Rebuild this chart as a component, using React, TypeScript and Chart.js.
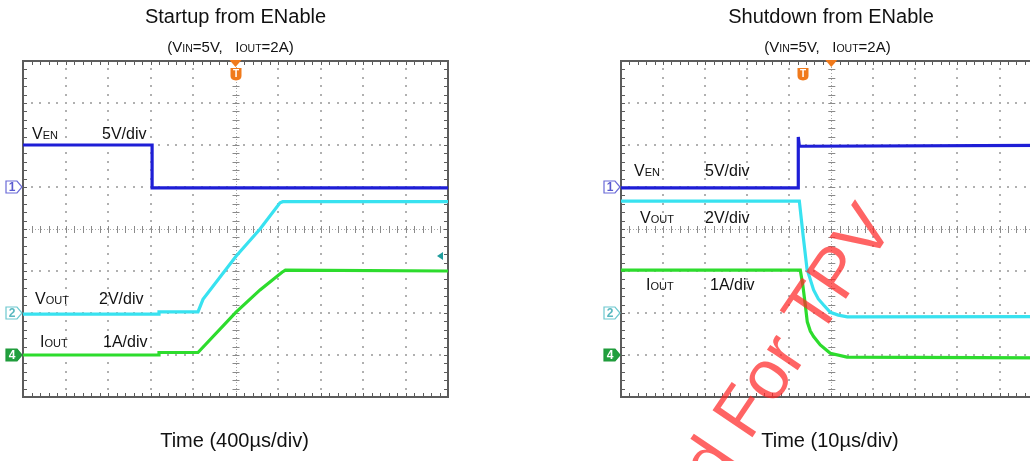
import React, { useEffect, useRef } from 'react';
import { Chart, registerables } from 'chart.js';
Chart.register(...registerables);

// ---------- Startup from ENable (400 µs/div) ----------
const startupVenTimeUs = [-2000, -785, -785, 2000];
const startupVenVolts = [5.0, 5.0, -0.1, -0.1];
const startupVoutTimeUs = [-2000, -720, -720, -353, -306, 5, 231, 419, 445, 2000];
const startupVoutVolts = [-0.05, -0.05, 0.05, 0.05, 0.65, 2.7, 4.0, 5.25, 5.3, 5.3];
const startupIoutTimeUs = [-2000, -720, -720, -353, 5, 231, 438, 470, 2000];
const startupIoutAmps = [0, 0, 0.06, 0.06, 1.02, 1.55, 1.97, 2.02, 2.0];

// ---------- Shutdown from ENable (10 µs/div) ----------
const shutdownVenTimeUs = [-50, -7.85, -7.85, -7.6, 50];
const shutdownVenVolts = [-0.1, -0.1, 5.95, 4.85, 4.95];
const shutdownVoutTimeUs = [-50, -7.6, -6.66, -5.78, -4.21, -3.09, -1.83, -0.24, 1.66, 3.8, 50];
const shutdownVoutVolts = [5.33, 5.33, 3.62, 2.1, 1.1, 0.67, 0.38, 0.03, -0.1, -0.18, -0.17];
const shutdownIoutTimeUs = [-50, -7.37, -6.78, -6.18, -5.71, -4.99, -4.21, -2.62, -0.24, 3.73, 50];
const shutdownIoutAmps = [2.02, 2.02, 1.67, 1.19, 0.79, 0.57, 0.44, 0.24, 0.04, -0.05, -0.07];

// ---------- text ----------
const startupTitle = 'Startup from ENable';
const shutdownTitle = 'Shutdown from ENable';
const startupXLabel = 'Time (400µs/div)';
const shutdownXLabel = 'Time (10µs/div)';
const watermarkText = 'Prepared For TPV';

const FONT = '"Liberation Sans", Arial, Helvetica, sans-serif';
const BLUE = '#1e1ed6';
const CYAN = '#38e2f0';
const GREEN = '#2ddc2d';
const ORANGE = '#f07a1c';

type Part = { t: string; s: number };
type Label = { parts: Part[]; x: number; y: number };
interface ScopeCfg {
  canvasLeft: number;
  title: string;
  titleX: number;
  subtitleX: number;
  xLabel: string;
  xLabelX: number;
  labels: Label[];
  triggerIconX: number;
  levelMarker?: { x: number; y: number };
  watermark?: boolean;
}

function drawParts(ctx: CanvasRenderingContext2D, parts: Part[], x: number, y: number, center: boolean) {
  let total = 0;
  const widths = parts.map((p) => {
    ctx.font = `${p.s}px ${FONT}`;
    const w = ctx.measureText(p.t).width;
    total += w;
    return w;
  });
  let cx = center ? x - total / 2 : x;
  ctx.textAlign = 'left';
  ctx.textBaseline = 'alphabetic';
  parts.forEach((p, i) => {
    ctx.font = `${p.s}px ${FONT}`;
    ctx.fillText(p.t, cx, y);
    cx += widths[i];
  });
}

function drawGrid(ctx: CanvasRenderingContext2D, a: { left: number; top: number; right: number; bottom: number }) {
  const W = a.right - a.left;
  const H = a.bottom - a.top;
  const dx = W / 10;
  const dy = H / 8;
  const cx = a.left + 5 * dx;
  const cy = a.top + 4 * dy;
  ctx.fillStyle = '#b0b0b0';
  for (let i = 1; i < 10; i++) {
    if (i === 5) continue;
    const x = Math.round(a.left + i * dx);
    for (let k = 1; k < 40; k++) {
      const y = Math.round(a.top + (k * dy) / 5);
      ctx.fillRect(x - 1, y - 1, 2, 2);
    }
  }
  for (let j = 1; j < 8; j++) {
    if (j === 4) continue;
    const y = Math.round(a.top + j * dy);
    for (let k = 1; k < 50; k++) {
      const x = Math.round(a.left + (k * dx) / 5);
      ctx.fillRect(x - 1, y - 1, 2, 2);
    }
  }
  // center cross
  ctx.strokeStyle = '#a8a8a8';
  ctx.lineWidth = 1;
  ctx.setLineDash([1, 2]);
  ctx.beginPath();
  ctx.moveTo(Math.round(cx) + 0.5, a.top);
  ctx.lineTo(Math.round(cx) + 0.5, a.bottom);
  ctx.moveTo(a.left, Math.round(cy) + 0.5);
  ctx.lineTo(a.right, Math.round(cy) + 0.5);
  ctx.stroke();
  ctx.setLineDash([]);
  ctx.strokeStyle = '#8a8a8a';
  ctx.beginPath();
  for (let k = 1; k < 40; k++) {
    const y = Math.round(a.top + (k * dy) / 5) + 0.5;
    ctx.moveTo(cx - 3, y);
    ctx.lineTo(cx + 4, y);
  }
  for (let k = 1; k < 50; k++) {
    const x = Math.round(a.left + (k * dx) / 5) + 0.5;
    ctx.moveTo(x, cy - 3);
    ctx.lineTo(x, cy + 4);
  }
  ctx.stroke();
  // border with inward ticks
  ctx.strokeStyle = '#5c5c5c';
  ctx.lineWidth = 2;
  ctx.strokeRect(a.left, a.top, W, H);
  ctx.lineWidth = 1;
  ctx.beginPath();
  for (let k = 1; k < 50; k++) {
    const x = Math.round(a.left + (k * dx) / 5) + 0.5;
    ctx.moveTo(x, a.top);
    ctx.lineTo(x, a.top + 4);
    ctx.moveTo(x, a.bottom);
    ctx.lineTo(x, a.bottom - 4);
  }
  for (let k = 1; k < 40; k++) {
    const y = Math.round(a.top + (k * dy) / 5) + 0.5;
    ctx.moveTo(a.left, y);
    ctx.lineTo(a.left + 4, y);
    ctx.moveTo(a.right, y);
    ctx.lineTo(a.right - 4, y);
  }
  ctx.stroke();
}

function drawChannelMarker(
  ctx: CanvasRenderingContext2D,
  tipX: number,
  y: number,
  label: string,
  stroke: string,
  fill: string,
  textColor: string
) {
  const x0 = tipX - 16;
  ctx.beginPath();
  ctx.moveTo(x0, y - 6);
  ctx.lineTo(tipX - 5, y - 6);
  ctx.lineTo(tipX, y);
  ctx.lineTo(tipX - 5, y + 6);
  ctx.lineTo(x0, y + 6);
  ctx.closePath();
  ctx.fillStyle = fill;
  ctx.fill();
  ctx.strokeStyle = stroke;
  ctx.lineWidth = 1.2;
  ctx.stroke();
  ctx.fillStyle = textColor;
  ctx.font = `bold 12px ${FONT}`;
  ctx.textAlign = 'center';
  ctx.textBaseline = 'middle';
  ctx.fillText(label, x0 + 6, y + 0.5);
}

function scopePlugin(cfg: ScopeCfg) {
  return {
    id: 'scope',
    beforeDatasetsDraw(chart: any) {
      const ctx = chart.ctx as CanvasRenderingContext2D;
      ctx.save();
      drawGrid(ctx, chart.chartArea);
      ctx.restore();
    },
    afterDraw(chart: any) {
      const ctx = chart.ctx as CanvasRenderingContext2D;
      const a = chart.chartArea;
      const cx = a.left + (a.right - a.left) / 2;
      const ys = chart.scales;
      ctx.save();
      // trigger position arrow at top
      ctx.fillStyle = ORANGE;
      ctx.beginPath();
      ctx.moveTo(cx - 6, a.top - 1);
      ctx.lineTo(cx + 6, a.top - 1);
      ctx.lineTo(cx, a.top + 6);
      ctx.closePath();
      ctx.fill();
      // channel ground markers
      drawChannelMarker(ctx, a.left - 1, ys.yEN.getPixelForValue(0), '1', '#6a6ad8', '#ffffff', '#5a5ad0');
      drawChannelMarker(ctx, a.left - 1, ys.yOUT.getPixelForValue(0), '2', '#6cc8cf', '#ffffff', '#5ab8c0');
      drawChannelMarker(ctx, a.left - 1, ys.yI.getPixelForValue(0), '4', '#1f9a3a', '#22a03e', '#ffffff');

      ctx.translate(-cfg.canvasLeft, 0);
      // trigger icon
      const tx = cfg.triggerIconX;
      ctx.fillStyle = ORANGE;
      ctx.beginPath();
      ctx.moveTo(tx - 5.5, 68);
      ctx.lineTo(tx + 5.5, 68);
      ctx.lineTo(tx + 5.5, 76);
      ctx.quadraticCurveTo(tx + 5.5, 80, tx, 80.5);
      ctx.quadraticCurveTo(tx - 5.5, 80, tx - 5.5, 76);
      ctx.closePath();
      ctx.fill();
      ctx.fillStyle = '#ffffff';
      ctx.font = `bold 10px ${FONT}`;
      ctx.textAlign = 'center';
      ctx.textBaseline = 'middle';
      ctx.fillText('T', tx, 74.5);
      if (cfg.levelMarker) {
        const m = cfg.levelMarker;
        ctx.fillStyle = '#1e9c9c';
        ctx.beginPath();
        ctx.moveTo(m.x, m.y);
        ctx.lineTo(m.x + 6, m.y - 4);
        ctx.lineTo(m.x + 6, m.y + 4);
        ctx.closePath();
        ctx.fill();
      }
      // titles and labels
      ctx.fillStyle = '#111111';
      ctx.font = `20px ${FONT}`;
      ctx.textAlign = 'center';
      ctx.textBaseline = 'alphabetic';
      ctx.fillText(cfg.title, cfg.titleX, 23);
      drawParts(
        ctx,
        [
          { t: '(V', s: 15 },
          { t: 'IN', s: 10.5 },
          { t: '=5V,   I', s: 15 },
          { t: 'OUT', s: 10.5 },
          { t: '=2A)', s: 15 },
        ],
        cfg.subtitleX,
        52,
        true
      );
      ctx.font = `20px ${FONT}`;
      ctx.textAlign = 'center';
      ctx.fillText(cfg.xLabel, cfg.xLabelX, 447);
      cfg.labels.forEach((l) => drawParts(ctx, l.parts, l.x, l.y, false));
      if (cfg.watermark) {
        ctx.save();
        ctx.translate(895, 226);
        ctx.rotate((-56 * Math.PI) / 180);
        ctx.font = `70px ${FONT}`;
        ctx.fillStyle = 'rgba(255, 40, 40, 0.72)';
        ctx.textAlign = 'right';
        ctx.textBaseline = 'alphabetic';
        ctx.fillText(watermarkText, 0, 0);
        ctx.restore();
      }
      ctx.restore();
    },
  };
}

function series(times: number[], values: number[]) {
  return times.map((t, i) => ({ x: t, y: values[i] }));
}

function makeScope(
  canvas: HTMLCanvasElement,
  xMin: number,
  xMax: number,
  ven: { x: number; y: number }[],
  vout: { x: number; y: number }[],
  iout: { x: number; y: number }[],
  padding: { left: number; right: number; top: number; bottom: number },
  cfg: ScopeCfg
) {
  const ds = (data: any, color: string, axis: string) => ({
    data,
    yAxisID: axis,
    borderColor: color,
    backgroundColor: color,
    borderWidth: 3.2,
    pointRadius: 0,
    tension: 0,
    fill: false,
  });
  return new Chart(canvas, {
    type: 'line',
    data: {
      datasets: [ds(ven, BLUE, 'yEN'), ds(iout, GREEN, 'yI'), ds(vout, CYAN, 'yOUT')],
    },
    options: {
      responsive: false,
      animation: false,
      devicePixelRatio: 1,
      events: [],
      layout: { padding },
      plugins: { legend: { display: false }, tooltip: { enabled: false }, title: { display: false } },
      scales: {
        x: { type: 'linear', min: xMin, max: xMax, display: false },
        yEN: { type: 'linear', min: -25, max: 15, display: false },
        yOUT: { type: 'linear', min: -4, max: 12, display: false },
        yI: { type: 'linear', min: -1, max: 7, display: false },
      },
    } as any,
    plugins: [scopePlugin(cfg) as any],
  });
}

export default function App() {
  const leftRef = useRef<HTMLCanvasElement>(null);
  const rightRef = useRef<HTMLCanvasElement>(null);

  useEffect(() => {
    const left = makeScope(
      leftRef.current!,
      -2000,
      2000,
      series(startupVenTimeUs, startupVenVolts),
      series(startupVoutTimeUs, startupVoutVolts),
      series(startupIoutTimeUs, startupIoutAmps),
      { left: 23, right: 67, top: 61, bottom: 64 },
      {
        canvasLeft: 0,
        title: startupTitle,
        titleX: 235.5,
        subtitleX: 230.5,
        xLabel: startupXLabel,
        xLabelX: 234.5,
        triggerIconX: 236,
        levelMarker: { x: 437, y: 256 },
        labels: [
          { parts: [{ t: 'V', s: 16 }, { t: 'EN', s: 11 }], x: 32, y: 139 },
          { parts: [{ t: '5V/div', s: 16 }], x: 102, y: 139 },
          { parts: [{ t: 'V', s: 16 }, { t: 'OUT', s: 11 }], x: 35, y: 304 },
          { parts: [{ t: '2V/div', s: 16 }], x: 99, y: 304 },
          { parts: [{ t: 'I', s: 16 }, { t: 'OUT', s: 11 }], x: 40, y: 347 },
          { parts: [{ t: '1A/div', s: 16 }], x: 103, y: 347 },
        ],
      }
    );
    const right = makeScope(
      rightRef.current!,
      -50,
      50,
      series(shutdownVenTimeUs, shutdownVenVolts),
      series(shutdownVoutTimeUs, shutdownVoutVolts),
      series(shutdownIoutTimeUs, shutdownIoutAmps),
      { left: 91, right: 8.4, top: 61, bottom: 64 },
      {
        canvasLeft: 530,
        title: shutdownTitle,
        titleX: 831,
        subtitleX: 827.5,
        xLabel: shutdownXLabel,
        xLabelX: 830,
        triggerIconX: 803,
        watermark: true,
        labels: [
          { parts: [{ t: 'V', s: 16 }, { t: 'EN', s: 11 }], x: 634, y: 176 },
          { parts: [{ t: '5V/div', s: 16 }], x: 705, y: 176 },
          { parts: [{ t: 'V', s: 16 }, { t: 'OUT', s: 11 }], x: 640, y: 223 },
          { parts: [{ t: '2V/div', s: 16 }], x: 705, y: 223 },
          { parts: [{ t: 'I', s: 16 }, { t: 'OUT', s: 11 }], x: 646, y: 290 },
          { parts: [{ t: '1A/div', s: 16 }], x: 710, y: 290 },
        ],
      }
    );
    return () => {
      left.destroy();
      right.destroy();
    };
  }, []);

  return (
    <div
      style={{
        position: 'fixed',
        left: 0,
        top: 0,
        width: 1030,
        height: 461,
        overflow: 'hidden',
        background: '#ffffff',
      }}
    >
      <canvas ref={leftRef} width={515} height={461} style={{ position: 'absolute', left: 0, top: 0 }} />
      <canvas ref={rightRef} width={520} height={461} style={{ position: 'absolute', left: 530, top: 0 }} />
    </div>
  );
}
